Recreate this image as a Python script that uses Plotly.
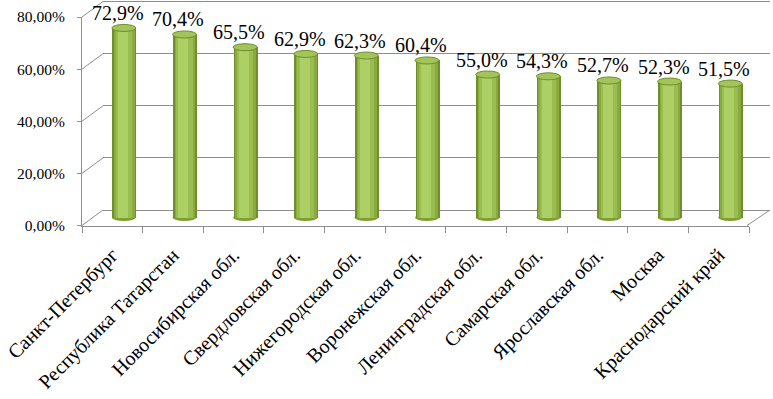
import plotly.graph_objects as go

# ---------------- data ----------------
categories = ["Санкт-Петербург", "Республика Татарстан", "Новосибирская обл.",
              "Свердловская обл.", "Нижегородская обл.", "Воронежская обл.",
              "Ленинградская обл.", "Самарская обл.", "Ярославская обл.",
              "Москва", "Краснодарский край"]
values = [72.9, 70.4, 65.5, 62.9, 62.3, 60.4, 55.0, 54.3, 52.7, 52.3, 51.5]
tick_vals = [0, 20, 40, 60, 80]
tick_text = ["0,00%", "20,00%", "40,00%", "60,00%", "80,00%"]

# ---------------- geometry helpers (page pixels) ----------------
W, H = 773, 399
def px(x):
    return x / W
def py(y):
    return 1 - y / H

FRONT_L, FRONT_R = 82, 749       # front floor edge (x)
FRONT_Y0, FRONT_Y80 = 225.5, 17  # front axis pixel of 0 and 80
BACK_L, BACK_R = 103, 770
BACK_Y0, BACK_Y80 = 210, 1.5
BAR_Y0 = 217.5
BAR_DX = 11.5

def front_py(v):
    return FRONT_Y0 + (FRONT_Y80 - FRONT_Y0) * v / 80
def back_py(v):
    return BACK_Y0 + (BACK_Y80 - BACK_Y0) * v / 80

def lin_range(p0, p80):
    s = (p0 - p80) / 80
    return [-(H - p0) / s, p0 / s]

back_range = lin_range(BACK_Y0, BACK_Y80)
bar_range = lin_range(BAR_Y0, BAR_Y0 - 2.6 * 80)

GRID = "#8e8e8e"
FONT = "Liberation Serif"

fig = go.Figure()

# subplot 1: back wall (grid only)
fig.add_trace(go.Scatter(x=[0.5], y=[None], xaxis="x", yaxis="y",
                         mode="markers", showlegend=False, hoverinfo="skip"))

# subplot 2: cylinders built from overlaid bars
n = len(categories)
idx = list(range(n))
full_w = 24 / ((FRONT_R - FRONT_L) / n)
layers = [
    (full_w, 0.0, "#6f8e2c"),
    (full_w * 0.86, 0.0, "#88aa3e"),
    (full_w * 0.68, -0.01, "#9bbd50"),
    (full_w * 0.42, -0.025, "#add066"),
]
for w, shift, col in layers:
    fig.add_trace(go.Bar(x=idx, y=values, width=w, offset=-w / 2 + shift,
                         marker=dict(color=col, line=dict(width=0)),
                         xaxis="x2", yaxis="y2", showlegend=False,
                         hoverinfo="skip"))

# subplot 3: front axes with labels
fig.add_trace(go.Scatter(x=categories, y=[None] * n, xaxis="x3", yaxis="y3",
                         mode="markers", showlegend=False, hoverinfo="skip"))

shapes = []
eh = 1.35  # half height of cylinder ellipse in percent units
for i, v in enumerate(values):
    shapes.append(dict(type="circle", xref="x2", yref="y2", layer="below",
                       x0=i - full_w / 2, x1=i + full_w / 2, y0=-eh, y1=eh,
                       fillcolor="#7f9f36", line=dict(width=0)))
    shapes.append(dict(type="circle", xref="x2", yref="y2", layer="above",
                       x0=i - full_w / 2, x1=i + full_w / 2, y0=v - eh, y1=v + eh,
                       fillcolor="#a2c45b", line=dict(color="#6f8e2c", width=1)))

# diagonals joining the front axis with the back wall
for t in tick_vals:
    shapes.append(dict(type="line", xref="paper", yref="paper",
                       x0=px(FRONT_L), y0=py(front_py(t)),
                       x1=px(BACK_L), y1=py(back_py(t)),
                       line=dict(color=GRID, width=1)))
# right floor edge
shapes.append(dict(type="line", xref="paper", yref="paper",
                   x0=px(FRONT_R - 2), y0=py(front_py(0)),
                   x1=px(BACK_R), y1=py(back_py(0)),
                   line=dict(color=GRID, width=1)))

annotations = []
for i, v in enumerate(values):
    annotations.append(dict(x=i, y=v, xref="x2", yref="y2",
                            text=f"{v:.1f}".replace(".", ",") + "%",
                            showarrow=False, yanchor="bottom", xshift=-6, yshift=2,
                            font=dict(family=FONT, size=20, color="black")))

fig.update_layout(
    width=W, height=H,
    margin=dict(l=0, r=0, t=0, b=0, autoexpand=False),
    paper_bgcolor="white", plot_bgcolor="rgba(0,0,0,0)",
    barmode="overlay", bargap=0,
    showlegend=False,
    shapes=shapes, annotations=annotations,
    xaxis=dict(domain=[px(BACK_L), px(BACK_R)], range=[0, 1],
               visible=False, automargin=False),
    yaxis=dict(domain=[0, 1], range=back_range, tickvals=tick_vals,
               showticklabels=False, showgrid=True, gridcolor=GRID, gridwidth=1,
               zeroline=False, showline=False, ticks="", automargin=False),
    xaxis2=dict(domain=[px(FRONT_L + BAR_DX), min(1, px(FRONT_R + BAR_DX))],
                range=[-0.5, n - 0.5], visible=False, anchor="y2",
                automargin=False),
    yaxis2=dict(domain=[0, 1], range=bar_range, visible=False, anchor="x2",
                automargin=False),
    xaxis3=dict(domain=[px(FRONT_L), px(FRONT_R)], anchor="y3", type="category",
                categoryorder="array", categoryarray=categories,
                range=[-0.5, n - 0.5], showline=True, linecolor=GRID,
                ticks="outside", tickson="boundaries", ticklen=6, tickcolor=GRID,
                tickangle=-45, showgrid=False, zeroline=False, automargin=False,
                ticklabeloverflow="allow", ticklabelstandoff=9,
                tickfont=dict(family=FONT, size=20, color="black")),
    yaxis3=dict(domain=[py(FRONT_Y0), py(FRONT_Y80)], anchor="x3", range=[0, 80],
                tickvals=tick_vals, ticktext=tick_text, showline=True,
                linecolor=GRID, ticks="outside", ticklen=4, tickcolor=GRID,
                showgrid=False, zeroline=False, ticklabelstandoff=9,
                automargin=False, ticklabeloverflow="allow",
                tickfont=dict(family=FONT, size=15.5, color="black")),
)

# the page's default body margin would shift the figure by 8px
fig.write_html("out.html", config={"displayModeBar": False},
               post_script="document.body.style.margin='0';")
